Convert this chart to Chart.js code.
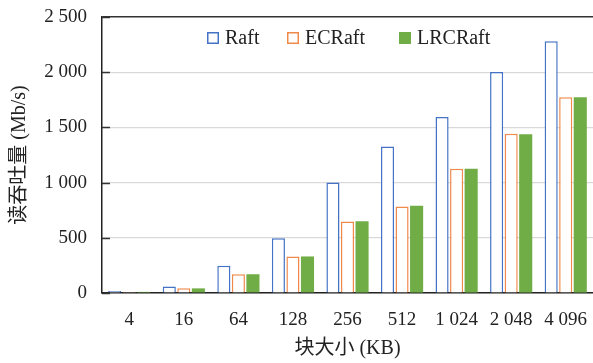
<!DOCTYPE html>
<html>
<head>
<meta charset="utf-8">
<script src="https://cdn.jsdelivr.net/npm/chart.js@4.4.1/dist/chart.umd.min.js"></script>
<style>
html,body{margin:0;padding:0;background:#fff}
#wrap{width:593px;height:363px}
</style>
</head>
<body>
<div id="wrap"><canvas id="myChart" width="593" height="363"></canvas></div>
<script>
const labels=['4','16','64','128','256','512','1 024','2 048','4 096']
const raft=[18,60,246,497,1000,1328,1594,2002,2280]
const ecraft=[10,42,169,331,648,784,1126,1443,1772]
const lrcraft=[10,42,170,331,650,790,1126,1437,1772]
const yTicks=[0,500,1000,1500,2000,2500]

const serif="'Liberation Serif','Times New Roman','Noto Sans CJK SC',serif"
const blue='#4472C4'
const orange='#F08A4B'
const green='#70AD47'

const ctx=document.getElementById('myChart').getContext('2d')

// small inward ticks on the y axis and the legend inside the plot
const extras={
    id:'extras',
    afterDraw(chart){
        const c=chart.ctx
        const y=chart.scales.y
        const area=chart.chartArea
        c.save()
        c.strokeStyle='#333'
        c.lineWidth=1.5
        yTicks.forEach(v=>{
            const py=Math.round(y.getPixelForValue(v))+0.5
            c.beginPath()
            c.moveTo(area.left,py)
            c.lineTo(area.left+8,py)
            c.stroke()
        })
        const items=[
            {text:'Raft',x:207,fill:'#fff',stroke:blue},
            {text:'ECRaft',x:287,fill:'#fff',stroke:orange},
            {text:'LRCRaft',x:399,fill:green,stroke:green},
        ]
        c.font='20px '+serif
        c.textBaseline='middle'
        items.forEach(it=>{
            c.fillStyle=it.fill
            c.fillRect(it.x,32,12,12)
            c.strokeStyle=it.stroke
            c.lineWidth=1.5
            c.strokeRect(it.x+0.75,32.75,10.5,10.5)
            c.fillStyle='#222'
            c.fillText(it.text,it.x+18,38.5)
        })
        c.restore()
    }
}

const myChart=new Chart(ctx,{
    type:'bar',
    data:{
        labels,
        datasets:[
            {label:'Raft',data:raft,backgroundColor:'#fff',borderColor:blue,borderWidth:1.5},
            {label:'ECRaft',data:ecraft,backgroundColor:'#fff',borderColor:orange,borderWidth:1.5},
            {label:'LRCRaft',data:lrcraft,backgroundColor:green,borderColor:green,borderWidth:0},
        ]
    },
    options:{
        responsive:false,
        animation:false,
        layout:{padding:{top:17,right:0,left:0,bottom:0}},
        plugins:{legend:{display:false},tooltip:{enabled:false}},
        datasets:{bar:{categoryPercentage:0.8,barPercentage:0.9}},
        scales:{
            x:{
                grid:{display:false},
                border:{color:'#222',width:1.5},
                ticks:{color:'#222',font:{family:serif,size:19},padding:8},
                title:{display:true,text:'块大小 (KB)',color:'#222',font:{family:serif,size:20},padding:{top:4,bottom:2}},
                afterFit:s=>{s.height=70;s.paddingLeft=0;s.paddingRight=0}
            },
            y:{
                min:0,max:2500,
                afterBuildTicks:s=>{s.ticks=yTicks.map(v=>({value:v}))},
                grid:{
                    color:c=>c.tick&&c.tick.value===2500?'#333':'#d9d9d9',
                    lineWidth:c=>c.tick&&c.tick.value===2500?1.5:1.2,
                    drawTicks:false
                },
                border:{color:'#222',width:1.5},
                ticks:{
                    color:'#222',font:{family:serif,size:19},padding:15,
                    callback:v=>String(v).replace(/\B(?=(\d{3})+(?!\d))/g,' ')
                },
                title:{display:true,text:'读吞吐量 (Mb/s)',color:'#222',font:{family:serif,size:20},padding:{top:8,bottom:4}},
                afterFit:s=>{s.width=102;s.paddingTop=0;s.paddingBottom=0}
            }
        }
    },
    plugins:[extras]
})
</script>
</body>
</html>
